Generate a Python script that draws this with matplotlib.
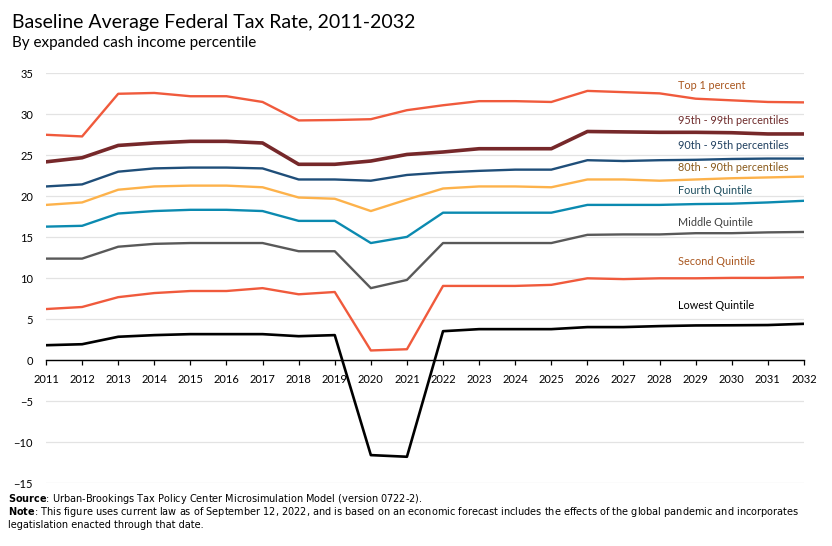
import numpy as np
import matplotlib
matplotlib.use("Agg")
import matplotlib.pyplot as plt

plt.rcParams['font.family'] = ['Lato', 'DejaVu Sans']

years = list(range(2011, 2033))

top1 = [27.5, 27.3, 32.5, 32.6, 32.2, 32.2, 31.5, 29.25, 29.3, 29.4, 30.5,
        31.1, 31.6, 31.6, 31.5, 32.85, 32.7, 32.55, 31.9, 31.7, 31.5, 31.45]
p95_99 = [24.2, 24.7, 26.2, 26.5, 26.7, 26.7, 26.5, 23.9, 23.9, 24.3, 25.1,
          25.4, 25.8, 25.8, 25.8, 27.9, 27.85, 27.8, 27.8, 27.75, 27.6, 27.6]
p90_95 = [21.2, 21.45, 23.0, 23.4, 23.5, 23.5, 23.4, 22.05, 22.05, 21.9, 22.6,
          22.9, 23.1, 23.25, 23.25, 24.4, 24.3, 24.4, 24.45, 24.55, 24.6, 24.6]
p80_90 = [18.95, 19.25, 20.8, 21.2, 21.3, 21.3, 21.1, 19.85, 19.7, 18.2, 19.6,
          20.95, 21.2, 21.2, 21.1, 22.05, 22.05, 21.9, 22.05, 22.2, 22.3, 22.4]
fourth = [16.3, 16.4, 17.9, 18.2, 18.35, 18.35, 18.2, 17.0, 17.0, 14.3, 15.05,
          18.0, 18.0, 18.0, 18.0, 18.95, 18.95, 18.95, 19.05, 19.1, 19.25, 19.45]
middle = [12.4, 12.4, 13.85, 14.2, 14.3, 14.3, 14.3, 13.3, 13.3, 8.8, 9.8,
          14.3, 14.3, 14.3, 14.3, 15.3, 15.35, 15.35, 15.5, 15.5, 15.6, 15.65]
second = [6.25, 6.5, 7.7, 8.2, 8.45, 8.45, 8.8, 8.05, 8.33, 1.2, 1.35,
          9.07, 9.07, 9.07, 9.2, 10.0, 9.9, 10.0, 10.0, 10.05, 10.05, 10.13]
lowest = [1.84, 1.96, 2.87, 3.07, 3.19, 3.19, 3.19, 2.94, 3.07, -11.56, -11.76,
          3.55, 3.8, 3.8, 3.8, 4.05, 4.05, 4.17, 4.25, 4.27, 4.3, 4.45]

labels = ["Top 1 percent", "95th - 99th percentiles", "90th - 95th percentiles",
          "80th - 90th percentiles", "Fourth Quintile", "Middle Quintile",
          "Second Quintile", "Lowest Quintile"]
label_y = [33.5, 29.2, 26.15, 23.5, 20.7, 16.8, 12.1, 6.7]

series = [top1, p95_99, p90_95, p80_90, fourth, middle, second, lowest]
line_colors = ['#F05A3C', '#76282A', '#1F4E79', '#FDB24B', '#0B8AB0',
               '#595959', '#F05A3C', '#000000']
line_widths = [1.7, 2.6, 1.7, 1.7, 1.7, 1.7, 1.7, 1.9]
text_colors = ['#A9561E', '#6E2B2B', '#1F3F5F', '#8A5A1A', '#1F4E5F',
               '#404040', '#A9561E', '#000000']

fig = plt.figure(figsize=(8.32, 5.46), dpi=100)
ax = fig.add_axes([0.0553, 0.1148, 0.911, 0.751])

for vals, c, lw in zip(series, line_colors, line_widths):
    ax.plot(years, vals, color=c, lw=lw, solid_joinstyle='round', zorder=3)

for lab, ly, tc in zip(labels, label_y, text_colors):
    ax.text(2028.5, ly, lab, color=tc, fontsize=7.8, ha='left', va='center')

ax.set_xlim(2011, 2032)
ax.set_ylim(-15, 35)
ax.set_yticks(range(-15, 36, 5))
ax.set_xticks(years)
ax.grid(axis='y', color='#E3E3E3', lw=0.9, zorder=0)
for s in ['top', 'right', 'left']:
    ax.spines[s].set_visible(False)
ax.spines['bottom'].set_position(('data', 0))
ax.spines['bottom'].set_color('#000000')
ax.spines['bottom'].set_linewidth(1.0)
ax.spines['bottom'].set_zorder(2)
ax.tick_params(axis='y', length=0, labelsize=8, pad=9.4)
ax.tick_params(axis='x', length=3.3, width=0.9, direction='out', labelsize=8, pad=6.5)

fig.text(0.014, 0.948, "Baseline Average Federal Tax Rate, 2011-2032",
         fontsize=14.0, va='baseline', ha='left')
fig.text(0.014, 0.9145, "By expanded cash income percentile",
         fontsize=11, va='baseline', ha='left')

# footer notes
foot = dict(fontsize=7, va='baseline', ha='left', family='DejaVu Sans')
fig.text(0.010, 0.0815, "$\\bf{Source}$: Urban-Brookings Tax Policy Center Microsimulation Model (version 0722-2).", **foot)
fig.text(0.010, 0.0560, "$\\bf{Note}$: This figure uses current law as of September 12, 2022, and is based on an economic forecast includes the effects of the global pandemic and incorporates", **foot)
fig.text(0.010, 0.0335, "legatislation enacted through that date.", **foot)

fig.savefig('out.png', dpi=100)
